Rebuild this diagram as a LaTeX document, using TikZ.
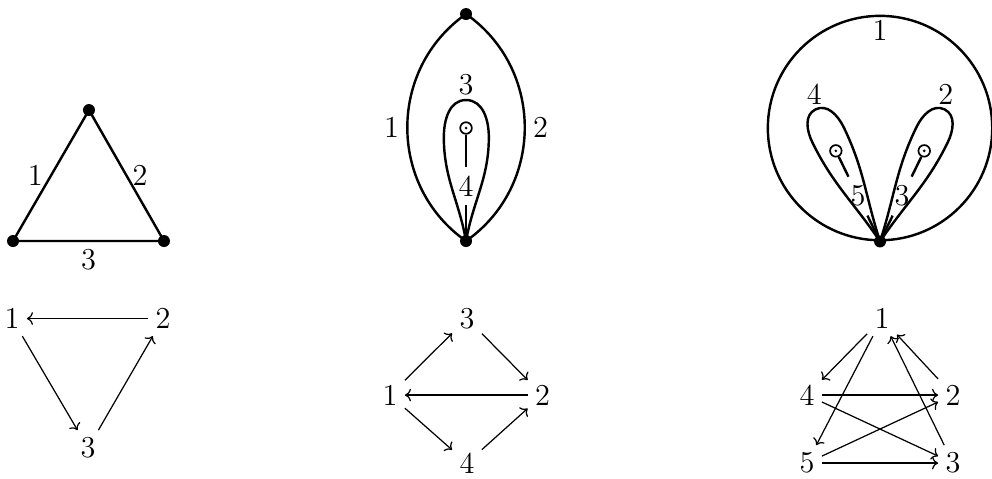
\documentclass[tikz,border=0pt]{standalone}
\usepackage{tikz}
\usetikzlibrary{arrows.meta,positioning,calc}

\begin{document}
\begin{tikzpicture}[
  every node/.style={font=\Large},
  vertex/.style={circle, fill, inner sep=0pt, minimum size=2mm},
  hole/.style={circle, draw, line width=0.8pt, inner sep=0pt, minimum size=5.5pt,
    path picture={\fill (path picture bounding box.center) circle (0.7pt);}},
  tag/.style={inner sep=4.1pt},
  edge/.style={line width=1.15pt},
  arc/.style={->, line width=0.58pt},
]
  \useasboundingbox (0,0) rectangle (16.533,7.967);

  \node[vertex] (t1) at (1.483,6.133) {};
  \node[vertex] (t2) at (0.217,3.95) {};
  \node[vertex] (t3) at (2.733,3.95) {};
  \draw[edge] (t1.center) -- node[midway, left=0pt] (e1) {1} (t2.center)
    -- node[midway, below=0pt] (e3) {3} (t3.center)
    -- node[midway, right=-1pt] (e2) {2} (t1.center);

  \node[vertex] (u1) at (7.767,7.733) {};
  \node[vertex] (u2) at (7.767,3.95) {};
  \node[hole] (h1) at (7.767,5.833) {};
  \node[tag] (f4) at (7.767,4.867) {4};
  \coordinate (k3) at (7.767,6.3);
  \node[above=-1pt of k3] (f3) {3};
  \draw[edge] (u1.center) to[out=215, in=145, looseness=1.08]
    node[midway, left=0pt] (f1) {1} (u2.center);
  \draw[edge] (u1.center) to[out=-35, in=35, looseness=1.08]
    node[midway, right=0pt] (f2) {2} (u2.center);
  \draw[edge] (u2.center) to[out=100, in=-90] (7.397,5.68) to[out=90, in=180] (k3)
    to[out=0, in=90] (8.147,5.68) to[out=-90, in=80] (u2.center);
  \draw[edge] (u2) -- (f4) (f4) -- (h1);

  \node[circle, draw, line width=1.15pt, inner sep=0pt, minimum size=3.74cm] (ring) at (14.667,5.833) {};
  \node[vertex] (w1) at (ring.south) {};
  \node[below=-1pt of ring.north] (g1) {1};
  \node[hole] (h2) at ($(w1)+(116:1.68)$) {};
  \node[hole] (h3) at ($(w1)+(64:1.68)$) {};
  \node[tag] (g5) at ($(w1)!0.5!(h2)$) {5};
  \node[tag] (g3) at ($(w1)!0.5!(h3)$) {3};
  \node (g4) at ($(w1)+(114:2.69)$) {4};
  \node (g2) at ($(w1)+(66:2.69)$) {2};
  \begin{scope}[shift={(w1.center)}, rotate=26]
    \draw[edge] (0,0) to[out=98, in=-90] (-0.29,1.98) to[out=90, in=180] (0,2.45)
      to[out=0, in=90] (0.29,1.98) to[out=-90, in=82] (0,0);
  \end{scope}
  \begin{scope}[shift={(w1.center)}, rotate=-26]
    \draw[edge] (0,0) to[out=98, in=-90] (-0.29,1.98) to[out=90, in=180] (0,2.45)
      to[out=0, in=90] (0.29,1.98) to[out=-90, in=82] (0,0);
  \end{scope}
  \draw[edge] (w1) -- (g5) (g5) -- (h2);
  \draw[edge] (w1) -- (g3) (g3) -- (h3);

  \node (a1) at (0.2,2.658) {1};
  \node (a2) at (2.717,2.658) {2};
  \node (a3) at (1.467,0.5) {3};
  \draw[arc] (a2) -- (a1);
  \draw[arc] (a1) -- (a3);
  \draw[arc] (a3) -- (a2);

  \node (b3) at (7.783,2.658) {3};
  \node (b1) at (6.5,1.383) {1};
  \node (b2) at (9.042,1.383) {2};
  \node (b4) at (7.783,0.25) {4};
  \draw[arc] (b1) -- (b3);
  \draw[arc] (b3) -- (b2);
  \draw[arc] (b2) -- (b1);
  \draw[arc] (b1) -- (b4);
  \draw[arc] (b4) -- (b2);

  \node (r1) at (14.7,2.658) {1};
  \node (r4) at (13.45,1.383) {4};
  \node (r2) at (15.883,1.383) {2};
  \node (r5) at (13.45,0.25) {5};
  \node (r3) at (15.883,0.25) {3};
  \draw[arc] (r1) -- (r4);
  \draw[arc] (r1) -- (r5);
  \draw[arc] (r2) -- (r1);
  \draw[arc] (r3) -- (r1);
  \draw[arc] (r4) -- (r2);
  \draw[arc] (r4) -- (r3);
  \draw[arc] (r5) -- (r2);
  \draw[arc] (r5) -- (r3);
\end{tikzpicture}
\end{document}
